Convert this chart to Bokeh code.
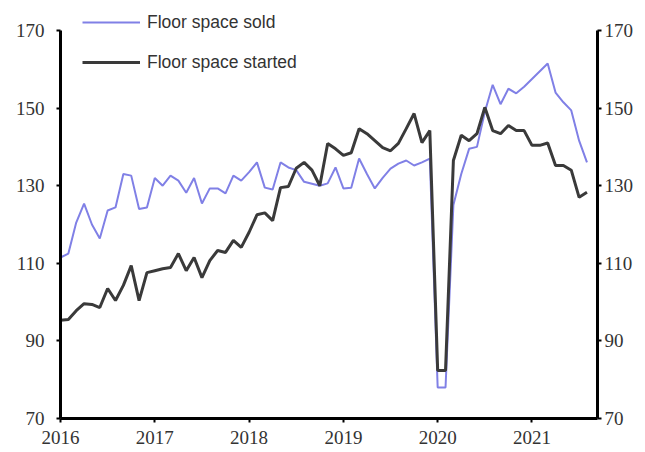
from bokeh.plotting import figure
from bokeh.models import Range1d, LinearAxis, FixedTicker, Legend, LegendItem, CustomJSTickFormatter
from bokeh.embed import file_html
from bokeh.resources import INLINE

start_year = 2016
year_ticks = [2016, 2017, 2018, 2019, 2020, 2021]
value_ticks = [70, 90, 110, 130, 150, 170]

# Monthly index values, Jan 2016 - Aug 2021
floor_space_sold = [
    111.5, 112.5, 120.5, 125.4, 120.0, 116.4, 123.6, 124.4, 133.0, 132.6, 124.0, 124.4,  # 2016
    132.0, 130.0, 132.6, 131.3, 128.2, 132.0, 125.4, 129.3, 129.3, 128.0, 132.6, 131.3,  # 2017
    133.5, 136.0, 129.5, 129.0, 136.0, 134.7, 134.0, 131.0, 130.5, 130.0, 130.6, 134.7,  # 2018
    129.3, 129.5, 137.0, 133.0, 129.3, 132.0, 134.4, 135.7, 136.5, 135.2, 136.0, 137.0,  # 2019
    78.0, 78.0, 125.0, 133.0, 139.5, 140.0, 149.0, 156.0, 151.0, 155.0, 153.8, 155.5,   # 2020
    157.5, 159.5, 161.5, 154.0, 151.5, 149.4, 141.6, 136.0,                             # 2021
]
floor_space_started = [
    95.3, 95.5, 97.8, 99.6, 99.4, 98.6, 103.5, 100.4, 104.3, 109.4, 100.4, 107.6,       # 2016
    108.1, 108.6, 108.9, 112.5, 108.1, 111.5, 106.3, 110.7, 113.3, 112.8, 115.9, 114.1,  # 2017
    118.0, 122.5, 123.0, 121.0, 129.5, 129.8, 134.5, 136.0, 134.0, 130.0, 140.9, 139.5,  # 2018
    137.8, 138.5, 144.7, 143.4, 141.6, 139.8, 139.0, 140.9, 144.7, 148.6, 141.1, 144.2,  # 2019
    82.4, 82.4, 136.5, 143.0, 141.6, 143.4, 150.2, 144.2, 143.4, 145.5, 144.2, 144.2,   # 2020
    140.4, 140.4, 141.0, 135.2, 135.2, 134.0, 127.0, 128.3,                             # 2021
]
series_names = ["Floor space sold", "Floor space started"]

x = [start_year + i / 12 for i in range(len(floor_space_sold))]

BLUE = "#8080e6"
DARK = "#3a3a3a"
TXT = "#333333"
SERIF = "Liberation Serif"

p = figure(width=645, height=452, output_backend="svg", toolbar_location=None,
           x_range=Range1d(2016, 2021.695), y_range=Range1d(70, 176.7),
           min_border_left=60, min_border_right=48, min_border_top=4, min_border_bottom=34)
p.xgrid.visible = False
p.ygrid.visible = False
p.outline_line_color = None
p.background_fill_color = "white"

r_sold = p.line(x, floor_space_sold, line_color=BLUE, line_width=2)
r_start = p.line(x, floor_space_started, line_color=DARK, line_width=3)

def style_axis(ax, standoff):
    ax.axis_line_color = "black"
    ax.axis_line_width = 3
    ax.major_tick_line_color = "black"
    ax.major_tick_line_width = 2
    ax.major_tick_out = 4
    ax.major_tick_in = 0
    ax.minor_tick_line_color = None
    ax.major_label_text_font = SERIF
    ax.major_label_text_font_size = "19px"
    ax.major_label_text_color = TXT
    ax.major_label_standoff = standoff

xa = p.xaxis[0]
xa.ticker = FixedTicker(ticks=year_ticks)
xa.formatter = CustomJSTickFormatter(code="return String(Math.round(tick));")
style_axis(xa, 8)

ya = p.yaxis[0]
ya.ticker = FixedTicker(ticks=value_ticks)
ya.bounds = (70, 170)
style_axis(ya, 12)

ya2 = LinearAxis(ticker=FixedTicker(ticks=value_ticks), bounds=(70, 170))
style_axis(ya2, 3)
p.add_layout(ya2, "right")

legend = Legend(items=[LegendItem(label=series_names[0], renderers=[r_sold]),
                       LegendItem(label=series_names[1], renderers=[r_start])],
                location=(22, 343), orientation="vertical",
                glyph_width=58, glyph_height=26, label_height=26, spacing=14,
                label_standoff=7, padding=0, margin=0,
                border_line_color=None, background_fill_alpha=0,
                label_text_font="Liberation Sans",
                label_text_font_size="17.5px", label_text_color=TXT)
p.add_layout(legend)

open("out.html", "w").write(file_html(p, INLINE))
